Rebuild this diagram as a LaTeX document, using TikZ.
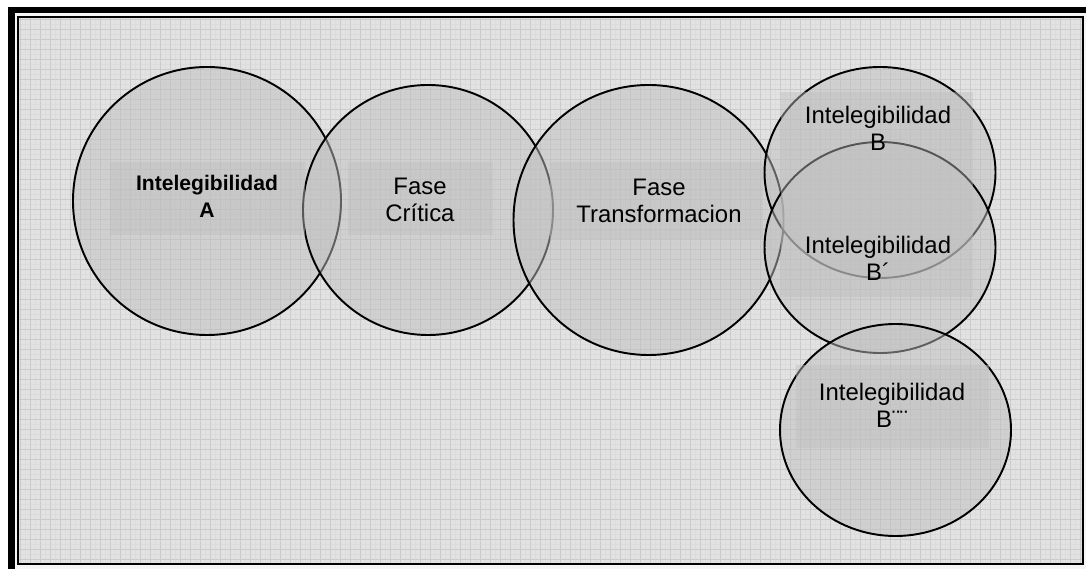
\documentclass[tikz,border=0pt]{standalone}
\usepackage{fontspec}
\setmainfont{Liberation Sans}
\definecolor{paper}{HTML}{E2E2E2}
\definecolor{gridline}{HTML}{CBCBCB}
\definecolor{fineline}{HTML}{DCDCDC}
\definecolor{disc}{gray}{0.75}
\tikzset{
  bubble/.style={draw=black, line width=1.1pt, fill=disc, fill opacity=0.5},
  shadebox/.style={fill=disc, fill opacity=0.45},
  caption/.style={align=center, inner sep=0pt, font=\fontsize{13.6}{15.4}\selectfont},
  captionbold/.style={align=center, inner sep=0pt, font=\bfseries\fontsize{12}{15.4}\selectfont},
}
\begin{document}
\begin{tikzpicture}
\useasboundingbox (0,0) rectangle (21.72,11.38);
\fill[white] (0,0) rectangle (21.72,11.38);

% frame and grid paper
\fill[black!4] (0.16,0) rectangle (21.72,11.24);
\fill[paper] (0.36,0.10) rectangle (21.66,11.04);
\draw[fineline, line width=0.25pt, step=0.1] (0.36,0.10) grid (21.66,11.04);
\draw[gridline, line width=0.5pt, step=0.2] (0.36,0.10) grid (21.66,11.04);
\fill[black] (0.16,11.12) rectangle (21.72,11.24);
\fill[black] (0.16,0) rectangle (0.30,11.24);
\draw[line width=1.1pt] (0.36,0.10) rectangle (21.66,11.04);

% circles
\draw[bubble]  (4.14,7.36) circle (2.68);
\draw[bubble]  (8.56,7.18) circle (2.5);
\draw[bubble]  (12.97,6.98) circle (2.7);
\draw[bubble]  (17.60,7.93) ellipse (2.31 and 2.11);
\draw[bubble]  (17.60,6.43) ellipse (2.31 and 2.11);
\draw[bubble]  (17.91,2.78) ellipse (2.31 and 2.12);

% boxes behind the texts
\fill[shadebox] (2.20,6.68) rectangle (6.10,8.14);
\fill[shadebox] (6.96,6.68) rectangle (9.86,8.14);
\fill[shadebox] (11.00,6.60) rectangle (15.26,8.14);
\fill[shadebox] (15.62,7.94) rectangle (19.46,9.54);
\fill[shadebox] (15.62,5.44) rectangle (19.46,7.94);
\fill[shadebox] (15.92,2.42) rectangle (19.78,4.08);

% texts
\node[captionbold] (intA) at (4.14,7.45) {Intelegibilidad\\A};
\node[caption] (critica) at (8.40,7.38) {Fase\\Crítica};
\node[caption] (transf) at (13.18,7.37) {Fase\\Transformacion};
\node[caption] (intB) at (17.56,8.81) {Intelegibilidad\\B};
\node[caption] (intBp) at (17.56,6.21) {Intelegibilidad\\B´};
\node[caption] (intBpp) at (17.84,3.28) {Intelegibilidad\\B¨¨};
\end{tikzpicture}
\end{document}
